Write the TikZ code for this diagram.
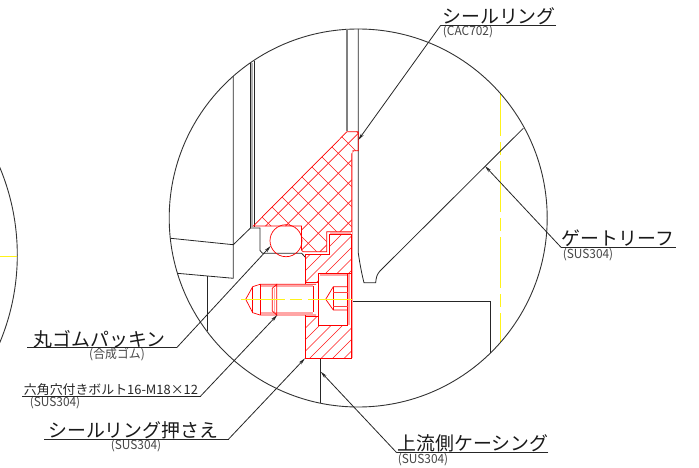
\documentclass[tikz,border=0pt]{standalone}
\usepackage{fontspec}
\setmainfont{Noto Sans CJK JP}
\usetikzlibrary{arrows.meta}
\tikzset{
 ink/.style={draw=black!85,line width=.8pt},
 rim/.style={draw=black!80,line width=.9pt},
 greyline/.style={draw=black!50,line width=1.6pt},
 redl/.style={draw=red,line width=.7pt},
 redthin/.style={draw=red!75,line width=.5pt},
 band/.style={draw=red!35,line width=1.6pt},
 hatch/.style={draw=red!90,line width=.6pt},
 yel/.style={draw=yellow!90!white,line width=1pt},
 shelf/.style={draw=black!85,line width=1pt},
 lead/.style={draw=black!85,line width=.8pt,-{Stealth[length=7pt,width=3.2pt]}},
 bigt/.style={inner sep=0pt,text=black!90,font=\fontsize{18.9}{18.9}\selectfont},
 midt/.style={inner sep=0pt,text=black!85,font=\fontsize{12.9}{12.9}\selectfont},
 smallt/.style={inner sep=0pt,text=black!72,font=\fontsize{12.5}{12.5}\selectfont},
}
\begin{document}
\begin{tikzpicture}[x=1pt,y=-1pt]
\useasboundingbox (0,0) rectangle (699,468);
\begin{scope}
\clip (0,0) rectangle (699,468);
% left neighbouring circle
\draw[rim] (-209.7,255) circle[radius=227];
\draw[yel] (0,256) -- (17,256);
\end{scope}
% yellow centre line
\draw[yel,dash pattern=on 51pt off 6pt on 13pt off 6pt,dash phase=8pt] (500,93) -- (500,342.5);
% detail circle
\draw[rim] (358.2,218) circle[radius=189];
% black parts
\draw[ink] (233.3,76.4) -- (233.3,278.3) -- (177.3,273.3);
\draw[ink] (170.7,238.3) -- (233.3,244.7) -- (250.5,228) -- (260,228) -- (260,250.5) -- (262.5,253.3) -- (301.7,253.3) -- (305,257);
\draw[ink] (207,276) -- (207,331.4);
\draw[draw=black!30,line width=2pt] (252.2,63) -- (252.2,227);
\draw[ink] (250.5,63) -- (250.5,228);
\draw[ink] (254,61) -- (254,227);
\draw[greyline] (346.7,29.3) -- (346.7,131);
\draw[ink] (358.3,29) -- (358.3,253) .. controls (360,265) and (362,275) .. (364,282.7) -- (375.7,282.7) .. controls (376,278) and (377,274) .. (380,271) -- (523.3,128.3);
\draw[ink] (352,301.5) -- (490.7,301.5) -- (490.7,352.7);
\draw[ink] (320.7,358.3) -- (320.7,402.7);
% seal ring
\begin{scope}
\clip (253.3,226) -- (347,131.7) -- (358.3,131.7) -- (358.3,150.7) -- (353.5,150.7) -- (351.7,154) -- (351.7,231.7) -- (326.7,231.7) -- (326.7,251.7) -- (303,251.7) -- (301.5,250) -- (301.5,226) -- cycle;
\foreach \k in {-20,...,20} {
  \draw[hatch] ({491.6+20*\k},0) -- ({491.6+20*\k-400},400);
  \draw[hatch] ({165+20*\k},0) -- ({165+20*\k+400},400);
}
\end{scope}
\draw[redl] (253.3,226) -- (347,131.7) -- (358.3,131.7) -- (358.3,150.7) -- (353.5,150.7) -- (351.7,154) -- (351.7,231.7) -- (326.7,231.7) -- (326.7,251.7) -- (303,251.7) -- (301.5,250) -- (301.5,226) -- cycle;
\draw[redl] (286,240.7) circle[radius=16];
% retainer
\begin{scope}
\clip (305,254.5) -- (329,254.5) -- (329,234) -- (351.7,234) -- (351.7,358.3) -- (305,358.3) -- cycle;
\foreach \k in {-12,...,12} {
  \draw[hatch] ({668+11.5*\k},0) -- ({668+11.5*\k-400},400);
}
\end{scope}
\draw[redl] (305,254.5) -- (329,254.5) -- (329,234) -- (351.7,234) -- (351.7,358.3) -- (305,358.3) -- cycle;
\draw[band] (352.5,150) -- (352.5,358.3);
\draw[band] (329.5,233) -- (351,233);
% socket and bolt
\fill[white] (318.3,273.3) rectangle (350.5,325);
\fill[white] (305.5,283) rectangle (318.3,316.5);
\fill[white] (252.7,284.3) rectangle (313,315);
\draw[band] (320,275) -- (349,275) -- (349,325);
\draw[redl] (318.3,273.3) -- (350.8,273.3);
\draw[redl] (318.3,273.3) rectangle (347.6,325);
\draw[redl] (305,282.7) -- (318.3,282.7);
\draw[redl] (305,316.7) -- (318.3,316.7);
\draw[band] (260,286) -- (313,286);
\draw[band] (274.5,288) -- (274.5,312);
\draw[band] (260,313) -- (313,313);
\draw[redl] (245.7,299.3) -- (252.7,286.7) -- (260,284.3) -- (316,284.3);
\draw[redl] (245.7,299.3) -- (252.7,312.7) -- (260,315) -- (316,315);
\draw[redl] (252.7,286.7) -- (252.7,312.7);
\draw[redl] (260,284.3) -- (260,315);
\draw[redl] (276.7,284.3) -- (272.3,288.3) -- (272.3,311) -- (276.7,315) -- cycle;
\draw[redl] (313.3,286) -- (313.3,312);
\draw[redl] (325.7,299.3) -- (333.3,286.7) -- (347.6,286.7);
\draw[redl] (325.7,299.3) -- (333.3,310) -- (347.6,310);
\draw[redl] (333.3,286.7) -- (333.3,310);
\draw[redthin] (333.3,292.7) -- (347.6,292.7);
\draw[redthin] (333.3,306) -- (347.6,306);
\draw[yel,dash pattern=on 44pt off 5pt on 12pt off 6pt] (241,299.3) -- (352,299.3);
% labels
\node[bigt] (t1) at (499,16) {シールリング};
\node[smallt] (s1) at (468,32) {\scalebox{.95}[1]{(CAC702)}};
\node[bigt] (t2) at (618,238.5) {ゲートリーフ};
\node[smallt] (s2) at (588,254.3) {\scalebox{.95}[1]{(SUS304)}};
\node[bigt] (t3) at (99.5,339) {丸ゴムパッキン};
\node[smallt] (s3) at (117,354.5) {\scalebox{.95}[1]{(合成ゴム)}};
\node[midt] (t4) at (111,389.5) {六角穴付きボルト16-M18×12};
\node[smallt] (s4) at (55,402.5) {\scalebox{.95}[1]{(SUS304)}};
\node[bigt] (t5) at (133.3,430) {シールリング押さえ};
\node[smallt] (s5) at (136,446) {\scalebox{.95}[1]{(SUS304)}};
\node[bigt] (t6) at (473,443.5) {上流側ケーシング};
\node[smallt] (s6) at (423,459.5) {\scalebox{.95}[1]{(SUS304)}};
% leaders
\coordinate (a1) at (358.3,140);
\coordinate (b1) at (440.7,25.3);
\coordinate (c1) at (556,25.3);
\draw[shelf] (c1) -- (b1);
\draw[lead] (b1) -- (a1);
\coordinate (a2) at (485,166);
\coordinate (b2) at (561,247.3);
\coordinate (c2) at (675.7,247.3);
\draw[shelf] (c2) -- (b2);
\draw[lead] (b2) -- (a2);
\coordinate (a3) at (270.7,246);
\coordinate (b3) at (176.7,347.7);
\coordinate (c3) at (27.3,347.7);
\draw[shelf] (c3) -- (b3);
\draw[lead] (b3) -- (a3);
\coordinate (a4) at (277.3,315);
\coordinate (b4) at (200.7,396);
\coordinate (c4) at (22,396);
\draw[shelf] (c4) -- (b4);
\draw[lead] (b4) -- (a4);
\coordinate (a5) at (305,358.3);
\coordinate (b5) at (228.7,439);
\coordinate (c5) at (44.3,439);
\draw[shelf] (c5) -- (b5);
\draw[lead] (b5) -- (a5);
\coordinate (a6) at (320.7,371.7);
\coordinate (b6) at (396.7,452.7);
\coordinate (c6) at (548.3,452.7);
\draw[shelf] (c6) -- (b6);
\draw[lead] (b6) -- (a6);
\end{tikzpicture}
\end{document}
